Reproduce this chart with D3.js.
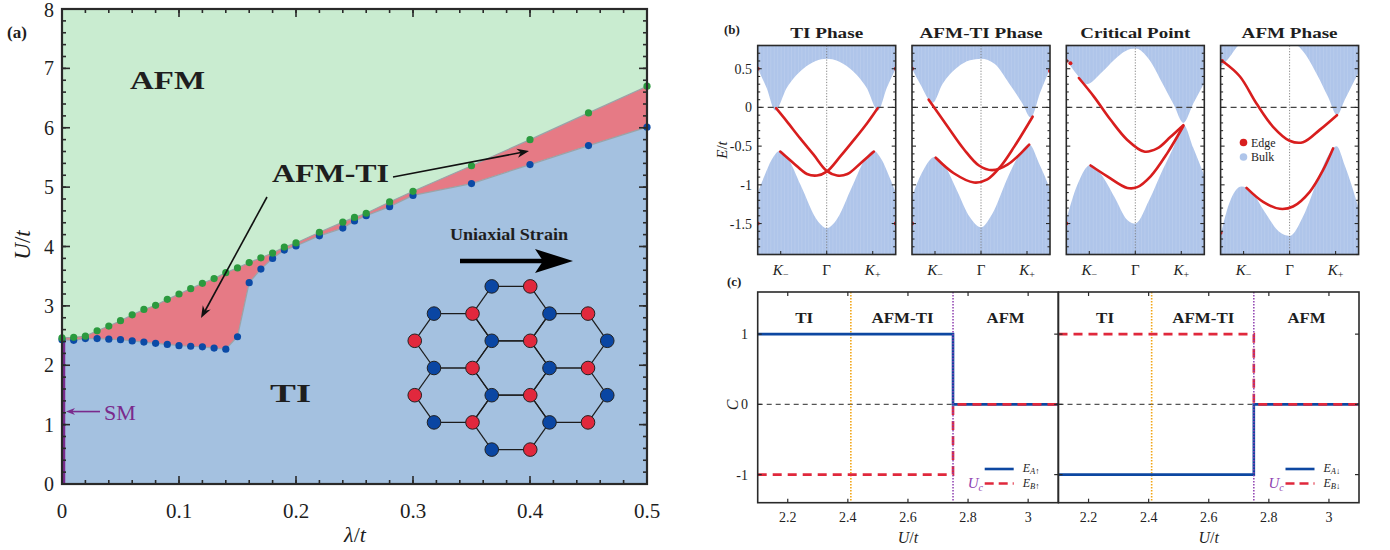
<!DOCTYPE html>
<html>
<head>
<meta charset="utf-8">
<script src="https://cdn.jsdelivr.net/npm/d3@7"></script>
<style>
body{margin:0;background:#fff}
svg{display:block}
text{font-family:"Liberation Serif","DejaVu Serif",serif;fill:#1e1e1e}
</style>
</head>
<body>
<svg id="fig" width="1390" height="550"></svg>
<script>
// ---------- (a) phase diagram data ----------
var lambdaVals = [0,0.01,0.02,0.03,0.04,0.05,0.06,0.07,0.08,0.09,0.10,0.11,0.12,0.13,0.14,0.15,0.16,0.17,0.18,0.19,0.20,0.22,0.24,0.25,0.26,0.28,0.30,0.35,0.40,0.45,0.50];
var uAfm = [2.46,2.47,2.49,2.58,2.66,2.75,2.85,2.94,3.01,3.11,3.20,3.29,3.38,3.46,3.56,3.64,3.73,3.81,3.89,3.99,4.06,4.24,4.41,4.49,4.56,4.75,4.93,5.36,5.80,6.25,6.70];
var uTi  = [2.43,2.42,2.45,2.45,2.44,2.43,2.41,2.39,2.37,2.35,2.33,2.32,2.31,2.29,2.27,2.48,3.39,3.62,3.80,3.94,4.01,4.18,4.31,4.43,4.52,4.67,4.86,5.06,5.38,5.70,6.01];
var smTop = 2.43;
var xTicksA = [0,0.1,0.2,0.3,0.4,0.5];
var yTicksA = [0,1,2,3,4,5,6,7,8];
// honeycomb cells (column, row in half-hexagon units)
var hexCells = [[0,-2],[0,0],[0,2],[-1,-1],[-1,1],[1,-1],[1,1]];

// ---------- (b) edge spectra data: [k (0..1 across zone), E/t] ----------
var tiCond = [[0,0.5],[0.065,0.25],[0.128,-0.04],[0.21,0.25],[0.33,0.5],[0.42,0.6],[0.5,0.63],[0.58,0.6],[0.67,0.5],[0.79,0.25],[0.872,-0.04],[0.935,0.25],[1,0.5]];
var tiVal  = [[0,-1.1],[0.05,-0.88],[0.1,-0.68],[0.163,-0.56],[0.22,-0.66],[0.31,-1.0],[0.44,-1.48],[0.5,-1.56],[0.56,-1.48],[0.69,-1.0],[0.78,-0.66],[0.837,-0.56],[0.9,-0.68],[0.95,-0.88],[1,-1.1]];
var tiEdgeA = [[0.133,-0.01],[0.211,-0.18],[0.308,-0.40],[0.405,-0.61],[0.5,-0.82],[0.575,-0.88],[0.65,-0.86],[0.746,-0.72],[0.842,-0.57]];
var tiEdgeB = [[0.163,-0.57],[0.26,-0.72],[0.357,-0.86],[0.43,-0.88],[0.5,-0.83],[0.6,-0.63],[0.697,-0.42],[0.794,-0.20],[0.869,-0.01]];
var tiDots = [[0,0.5],[1,0.5],[0,-1.5],[1,-1.5]];

var atCond = [[0,0.5],[0.06,0.3],[0.15,0.06],[0.22,0.3],[0.33,0.52],[0.42,0.61],[0.5,0.63],[0.6,0.56],[0.7,0.32],[0.8,0.05],[0.86,-0.13],[0.93,0.2],[1,0.5]];
var atVal  = [[0,-1.15],[0.07,-0.85],[0.165,-0.64],[0.24,-0.76],[0.32,-1.05],[0.42,-1.42],[0.5,-1.55],[0.58,-1.38],[0.7,-0.88],[0.78,-0.6],[0.85,-0.48],[0.92,-0.72],[1,-1.05]];
var atEdgeA = [[0.121,0.10],[0.255,-0.24],[0.376,-0.54],[0.485,-0.75],[0.582,-0.81],[0.692,-0.74],[0.849,-0.48]];
var atEdgeB = [[0.172,-0.65],[0.303,-0.85],[0.449,-0.97],[0.546,-0.93],[0.643,-0.76],[0.74,-0.51],[0.874,-0.12]];
var atDots = [[0,0.5],[0,-1.5],[1,0.47]];

var crCond = [[0,0.62],[0.08,0.42],[0.15,0.3],[0.25,0.44],[0.35,0.62],[0.43,0.73],[0.5,0.76],[0.6,0.62],[0.7,0.3],[0.78,0.03],[0.848,-0.2],[0.92,0.05],[1,0.32]];
var crVal  = [[0,-1.45],[0.08,-1.0],[0.176,-0.74],[0.25,-0.86],[0.35,-1.16],[0.44,-1.45],[0.5,-1.5],[0.6,-1.2],[0.7,-0.8],[0.78,-0.5],[0.848,-0.22],[0.92,-0.52],[1,-0.88]];
var crEdgeA = [[0.091,0.38],[0.2,0.14],[0.321,-0.16],[0.442,-0.42],[0.563,-0.57],[0.659,-0.53],[0.756,-0.38],[0.848,-0.23]];
var crEdgeB = [[0.176,-0.75],[0.297,-0.89],[0.442,-1.04],[0.514,-1.03],[0.611,-0.89],[0.732,-0.59],[0.848,-0.24]];
var crDots = [[0,0.6],[0.03,0.57],[0,-1.5]];

var afCond = [[0,0.52],[0.06,0.64],[0.15,0.82],[0.5,0.85],[0.6,0.72],[0.7,0.42],[0.78,0.13],[0.843,-0.1],[0.9,0.1],[1,0.45]];
var afVal  = [[0,-1.65],[0.06,-1.25],[0.152,-1.02],[0.22,-1.08],[0.32,-1.35],[0.42,-1.6],[0.5,-1.66],[0.6,-1.4],[0.7,-0.95],[0.78,-0.62],[0.84,-0.5],[0.9,-0.75],[1,-1.3]];
var afEdgeA = [[0.02,0.59],[0.14,0.40],[0.26,0.05],[0.38,-0.25],[0.5,-0.43],[0.597,-0.45],[0.718,-0.29],[0.843,-0.10]];
var afEdgeB = [[0.188,-1.04],[0.308,-1.22],[0.429,-1.31],[0.525,-1.28],[0.646,-1.09],[0.742,-0.81],[0.815,-0.53]];
var afDots = [[0.01,0.6],[0,-1.62]];

var bTitles = ["TI Phase","AFM-TI Phase","Critical Point","AFM Phase"];
var bTitleW = [73,123,110,96];
var eTicks = [0.5,0,-0.5,-1,-1.5];
var kTicks = [1/6,0.5,5/6];

// ---------- (c) Chern numbers ----------
var uSteps = [2.1,2.75,2.75,3.1];
var cAup = [1,1,0,0];
var cBup = [-1,-1,0,0];
var cAdn = [-1,-1,0,0];
var cBdn = [1,1,0,0];
var uTiAfmTi = 2.41, uCrit = 2.75;
var uTicks = [2.2,2.4,2.6,2.8,3];
var cTicks = [1,0,-1];

var svg = d3.select("#fig");
var ink = "#2a2a2a";

function arrowHead(g, x1, y1, x2, y2, len, wid, col) {
    var a = Math.atan2(y2 - y1, x2 - x1);
    var p = [[x2, y2],
        [x2 - len*Math.cos(a) + wid*Math.sin(a), y2 - len*Math.sin(a) - wid*Math.cos(a)],
        [x2 - 0.7*len*Math.cos(a), y2 - 0.7*len*Math.sin(a)],
        [x2 - len*Math.cos(a) - wid*Math.sin(a), y2 - len*Math.sin(a) + wid*Math.cos(a)]];
    g.append("path").attr("d", "M" + p.join("L") + "Z").attr("fill", col);
}

// ================= panel (a) =================
var xA = d3.scaleLinear().domain([0,0.5]).range([62,647]);
var yA = d3.scaleLinear().domain([0,8]).range([484,9]);
var gA = svg.append("g");
var ptsA = lambdaVals.map(function(l,i){ return {l:l, g:uAfm[i], b:uTi[i]}; });

gA.append("rect").attr("x",xA(0)).attr("y",yA(8)).attr("width",xA(0.5)-xA(0)).attr("height",yA(0)-yA(8)).attr("fill","#c9ecd0");
gA.append("path").datum(ptsA)
    .attr("d", d3.area().x(function(d){return xA(d.l);}).y0(function(d){return yA(d.b);}).y1(function(d){return yA(d.g);}))
    .attr("fill","#e67a85");
gA.append("path").datum(ptsA)
    .attr("d", d3.area().x(function(d){return xA(d.l);}).y0(yA(0)).y1(function(d){return yA(d.b);}))
    .attr("fill","#a4c1e0");
gA.append("path").datum(ptsA).attr("d", d3.line().x(function(d){return xA(d.l);}).y(function(d){return yA(d.g);}))
    .attr("fill","none").attr("stroke","#9aa3a8").attr("stroke-width",1.2);
gA.append("path").datum(ptsA).attr("d", d3.line().x(function(d){return xA(d.l);}).y(function(d){return yA(d.b);}))
    .attr("fill","none").attr("stroke","#9aa3a8").attr("stroke-width",1.2);

// SM line
gA.append("line").attr("x1",xA(0)+1.5).attr("x2",xA(0)+1.5).attr("y1",yA(0)).attr("y2",yA(smTop))
    .attr("stroke","#7a2a8c").attr("stroke-width",3.5);

// dots
gA.selectAll(".bd").data(ptsA).enter().append("circle")
    .attr("cx",function(d){return xA(d.l);}).attr("cy",function(d){return yA(d.b);}).attr("r",3.6).attr("fill","#0b4aa6");
gA.selectAll(".gd").data(ptsA).enter().append("circle")
    .attr("cx",function(d){return xA(d.l);}).attr("cy",function(d){return yA(d.g);}).attr("r",3.6).attr("fill","#2b9a3e");

// honeycomb lattice
var hc = {x:511, y:368, a:38.5, h:27.2};
var corners = [[-0.5,-1,"A"],[0.5,-1,"B"],[1,0,"A"],[0.5,1,"B"],[-0.5,1,"A"],[-1,0,"B"]];
var sites = {}, bonds = [];
hexCells.forEach(function(c){
    var cx = hc.x + c[0]*1.5*hc.a, cy = hc.y + c[1]*hc.h;
    var vs = corners.map(function(k){ return [cx + k[0]*hc.a, cy + k[1]*hc.h, k[2]]; });
    vs.forEach(function(v,i){
        var w = vs[(i+1)%6];
        bonds.push([v[0],v[1],w[0],w[1]]);
        sites[Math.round(v[0]) + "_" + Math.round(v[1])] = v;
    });
});
gA.selectAll(".bond").data(bonds).enter().append("line")
    .attr("x1",function(d){return d[0];}).attr("y1",function(d){return d[1];})
    .attr("x2",function(d){return d[2];}).attr("y2",function(d){return d[3];})
    .attr("stroke","#1c1c1c").attr("stroke-width",1.2);
gA.selectAll(".site").data(Object.values(sites)).enter().append("circle")
    .attr("cx",function(d){return d[0];}).attr("cy",function(d){return d[1];}).attr("r",6.8)
    .attr("fill",function(d){return d[2]==="A" ? "#0a46a3" : "#e1283d";})
    .attr("stroke","#222").attr("stroke-width",1);

// labels
function boldLabel(g, txt, x, y, size, w) {
    g.append("text").attr("x",x).attr("y",y).attr("font-size",size).attr("font-weight","bold")
        .attr("textLength",w).attr("lengthAdjust","spacingAndGlyphs").text(txt);
}
boldLabel(gA,"AFM",130,89,25,75);
boldLabel(gA,"AFM-TI",272,182,25,117);
boldLabel(gA,"TI",270,402,25,41);
boldLabel(gA,"Uniaxial Strain",450,240,17,118);

// AFM-TI arrows
gA.append("line").attr("x1",267).attr("y1",197).attr("x2",205).attr("y2",311).attr("stroke","#111").attr("stroke-width",1.6);
arrowHead(gA,267,197,201,318,12,4.5,"#111");
gA.append("line").attr("x1",393).attr("y1",177).attr("x2",521).attr("y2",152.5).attr("stroke","#111").attr("stroke-width",1.6);
arrowHead(gA,393,177,529,151,12,4.5,"#111");
// strain arrow
gA.append("line").attr("x1",460).attr("y1",261).attr("x2",545).attr("y2",261).attr("stroke","#000").attr("stroke-width",4.5);
gA.append("path").attr("d","M573,261L535,249L543,261L535,273Z").attr("fill","#000");

// SM arrow + label
gA.append("line").attr("x1",100).attr("y1",yA(1.22)).attr("x2",72).attr("y2",yA(1.22)).attr("stroke","#7a2a8c").attr("stroke-width",1.6);
arrowHead(gA,100,yA(1.22),66,yA(1.22),9,3.5,"#7a2a8c");
gA.append("text").attr("x",104).attr("y",yA(1.22)+8).attr("font-size",22).style("fill","#7a2a8c").text("SM");

// axes (a)
gA.append("rect").attr("x",xA(0)).attr("y",yA(8)).attr("width",xA(0.5)-xA(0)).attr("height",yA(0)-yA(8))
    .attr("fill","none").attr("stroke",ink).attr("stroke-width",2.2);
var xMinorA = d3.range(0,0.5001,0.02), yMinorA = d3.range(0,8.001,0.2);
[[xMinorA,4],[xTicksA,8]].forEach(function(t){
    t[0].forEach(function(v){
        gA.append("line").attr("x1",xA(v)).attr("x2",xA(v)).attr("y1",yA(0)).attr("y2",yA(0)-t[1]).attr("stroke",ink).attr("stroke-width",1.6);
        gA.append("line").attr("x1",xA(v)).attr("x2",xA(v)).attr("y1",yA(8)).attr("y2",yA(8)+t[1]).attr("stroke",ink).attr("stroke-width",1.6);
    });
});
[[yMinorA,4],[yTicksA,8]].forEach(function(t){
    t[0].forEach(function(v){
        gA.append("line").attr("y1",yA(v)).attr("y2",yA(v)).attr("x1",xA(0)).attr("x2",xA(0)+t[1]).attr("stroke",ink).attr("stroke-width",1.6);
        gA.append("line").attr("y1",yA(v)).attr("y2",yA(v)).attr("x1",xA(0.5)).attr("x2",xA(0.5)-t[1]).attr("stroke",ink).attr("stroke-width",1.6);
    });
});
gA.selectAll(".xtl").data(xTicksA).enter().append("text").attr("x",function(d){return xA(d);}).attr("y",518)
    .attr("text-anchor","middle").attr("font-size",21).text(function(d){return d===0?"0":d3.format(".1f")(d);});
gA.selectAll(".ytl").data(yTicksA).enter().append("text").attr("x",54).attr("y",function(d){return Math.max(yA(d)+7,16.5);})
    .attr("text-anchor","end").attr("font-size",20).text(function(d){return d;});
gA.append("text").attr("transform","translate(30,245) rotate(-90)").attr("text-anchor","middle").attr("font-size",23)
    .html('<tspan font-style="italic">U</tspan>/<tspan font-style="italic">t</tspan>');
gA.append("text").attr("x",355).attr("y",542).attr("text-anchor","middle").attr("font-size",22)
    .html('<tspan font-style="italic">λ</tspan>/<tspan font-style="italic">t</tspan>');
gA.append("text").attr("x",7).attr("y",38).attr("font-size",17).attr("font-weight","bold").text("(a)");

// ================= panel (b) =================
var bPanels = [
    {cond:tiCond, val:tiVal, edges:[tiEdgeA,tiEdgeB], dots:tiDots},
    {cond:atCond, val:atVal, edges:[atEdgeA,atEdgeB], dots:atDots},
    {cond:crCond, val:crVal, edges:[crEdgeA,crEdgeB], dots:crDots},
    {cond:afCond, val:afVal, edges:[afEdgeA,afEdgeB], dots:afDots}
];
var yB = d3.scaleLinear().domain([-1.9,0.8]).range([254.5,45.5]);
var bulkCol = "#afc5ea", edgeCol = "#d81e1e";
var eMinor = d3.range(-1.9,0.801,0.1);

bPanels.forEach(function(p,i){
    var x0 = 757.7 + i*154.3, w = 138;
    var xB = d3.scaleLinear().domain([0,1]).range([x0,x0+w]);
    var g = svg.append("g");
    var cid = "clipb" + i;
    svg.append("clipPath").attr("id",cid).append("rect").attr("x",x0).attr("y",yB(0.8)).attr("width",w).attr("height",yB(-1.9)-yB(0.8));
    var gc = g.append("g").attr("clip-path","url(#"+cid+")");
    gc.append("path").datum(p.cond)
        .attr("d", d3.area().curve(d3.curveMonotoneX).x(function(d){return xB(d[0]);}).y0(function(d){return yB(d[1]);}).y1(yB(0.8)-2))
        .attr("fill",bulkCol);
    gc.append("path").datum(p.val)
        .attr("d", d3.area().curve(d3.curveMonotoneX).x(function(d){return xB(d[0]);}).y0(function(d){return yB(d[1]);}).y1(yB(-1.9)+2))
        .attr("fill",bulkCol);
    // faint striation to hint at the many bulk subbands
    d3.range(0.02,1,0.025).forEach(function(k){
        gc.append("line").attr("x1",xB(k)).attr("x2",xB(k)).attr("y1",yB(0.8)).attr("y2",yB(-1.9))
            .attr("stroke","#ffffff").attr("stroke-opacity",0.15).attr("stroke-width",0.8);
    });
    gc.append("line").attr("x1",xB(0.5)).attr("x2",xB(0.5)).attr("y1",yB(0.8)).attr("y2",yB(-1.9))
        .attr("stroke","#777").attr("stroke-width",0.9).attr("stroke-dasharray","1.2,1.6");
    gc.append("line").attr("x1",x0).attr("x2",x0+w).attr("y1",yB(0)).attr("y2",yB(0))
        .attr("stroke","#444").attr("stroke-width",1.3).attr("stroke-dasharray","6,4");
    p.edges.forEach(function(e){
        gc.append("path").datum(e)
            .attr("d", d3.line().curve(d3.curveCatmullRom.alpha(0.5)).x(function(d){return xB(d[0]);}).y(function(d){return yB(d[1]);}))
            .attr("fill","none").attr("stroke",edgeCol).attr("stroke-width",2.6).attr("stroke-linecap","round");
    });
    gc.selectAll(".ed").data(p.dots).enter().append("circle")
        .attr("cx",function(d){return xB(d[0]);}).attr("cy",function(d){return yB(d[1]);}).attr("r",2).attr("fill",edgeCol);
    // frame and ticks
    g.append("rect").attr("x",x0).attr("y",yB(0.8)).attr("width",w).attr("height",yB(-1.9)-yB(0.8))
        .attr("fill","none").attr("stroke",ink).attr("stroke-width",1.6);
    eMinor.forEach(function(v){
        var maj = Math.abs(v*2 - Math.round(v*2)) < 1e-6;
        var L = maj ? 4 : 2.5;
        g.append("line").attr("x1",x0).attr("x2",x0+L).attr("y1",yB(v)).attr("y2",yB(v)).attr("stroke",ink).attr("stroke-width",1.1);
        g.append("line").attr("x1",x0+w).attr("x2",x0+w-L).attr("y1",yB(v)).attr("y2",yB(v)).attr("stroke",ink).attr("stroke-width",1.1);
    });
    kTicks.forEach(function(k){
        g.append("line").attr("x1",xB(k)).attr("x2",xB(k)).attr("y1",yB(-1.9)).attr("y2",yB(-1.9)-3.5).attr("stroke",ink).attr("stroke-width",1.1);
    });
    var kl = g.append("g").attr("font-size",15);
    kl.append("text").attr("x",xB(1/6)).attr("y",275).attr("text-anchor","middle")
        .html('<tspan font-style="italic">K</tspan><tspan font-size="10" dy="3">−</tspan>');
    kl.append("text").attr("x",xB(0.5)).attr("y",275).attr("text-anchor","middle").text("Γ");
    kl.append("text").attr("x",xB(5/6)).attr("y",275).attr("text-anchor","middle")
        .html('<tspan font-style="italic">K</tspan><tspan font-size="10" dy="3">+</tspan>');
    g.append("text").attr("x",x0+w/2 - bTitleW[i]/2).attr("y",38).attr("font-size",15).attr("font-weight","bold")
        .attr("textLength",bTitleW[i]).attr("lengthAdjust","spacingAndGlyphs").text(bTitles[i]);
    if (i === 0) {
        g.selectAll(".etl").data(eTicks).enter().append("text").attr("x",752).attr("y",function(d){return yB(d)+5;})
            .attr("text-anchor","end").attr("font-size",14).text(function(d){return String(d);});
    }
    if (i === 3) {
        g.append("circle").attr("cx",1243.5).attr("cy",142.5).attr("r",3.8).attr("fill",edgeCol);
        g.append("circle").attr("cx",1243.5).attr("cy",157).attr("r",3.8).attr("fill",bulkCol);
        g.append("text").attr("x",1251).attr("y",146.5).attr("font-size",12).text("Edge");
        g.append("text").attr("x",1251).attr("y",161).attr("font-size",12).text("Bulk");
    }
});
svg.append("text").attr("transform","translate(727,150) rotate(-90)").attr("text-anchor","middle").attr("font-size",15)
    .html('<tspan font-style="italic">E</tspan>/<tspan font-style="italic">t</tspan>');
svg.append("text").attr("x",724).attr("y",34).attr("font-size",13).attr("font-weight","bold").text("(b)");

// ================= panel (c) =================
var yC = d3.scaleLinear().domain([-1.4,1.6]).range([502.7,292]);
var cPanels = [
    {x0:757.7, A:cAup, B:cBup, arrow:"↑"},
    {x0:1058.5, A:cAdn, B:cBdn, arrow:"↓"}
];
cPanels.forEach(function(p,i){
    var xC = d3.scaleLinear().domain([2.1,3.1]).range([p.x0,p.x0+300.5]);
    var g = svg.append("g");
    g.append("line").attr("x1",xC(2.1)).attr("x2",xC(3.1)).attr("y1",yC(0)).attr("y2",yC(0))
        .attr("stroke","#555").attr("stroke-width",1.3).attr("stroke-dasharray","5,4");
    g.append("line").attr("x1",xC(uTiAfmTi)).attr("x2",xC(uTiAfmTi)).attr("y1",yC(1.6)).attr("y2",yC(-1.4))
        .attr("stroke","#f2a516").attr("stroke-width",1.6).attr("stroke-dasharray","1.5,1.5");
    var stepLine = d3.line().x(function(d){return xC(d[0]);}).y(function(d){return yC(d[1]);});
    g.append("path").datum(uSteps.map(function(u,j){return [u,p.A[j]];})).attr("d",stepLine)
        .attr("fill","none").attr("stroke","#0d47a1").attr("stroke-width",2.6);
    g.append("path").datum(uSteps.map(function(u,j){return [u,p.B[j]];})).attr("d",stepLine)
        .attr("fill","none").attr("stroke","#e0283c").attr("stroke-width",2.6).attr("stroke-dasharray","9,6");
    g.append("line").attr("x1",xC(uCrit)).attr("x2",xC(uCrit)).attr("y1",yC(1.6)).attr("y2",yC(-1.4))
        .attr("stroke","#8e3fb0").attr("stroke-width",1.5).attr("stroke-dasharray","1.5,1.5");
    g.append("rect").attr("x",xC(2.1)).attr("y",yC(1.6)).attr("width",xC(3.1)-xC(2.1)).attr("height",yC(-1.4)-yC(1.6))
        .attr("fill","none").attr("stroke",ink).attr("stroke-width",1.6);
    uTicks.forEach(function(u){
        g.append("line").attr("x1",xC(u)).attr("x2",xC(u)).attr("y1",yC(-1.4)).attr("y2",yC(-1.4)-4).attr("stroke",ink).attr("stroke-width",1.2);
        g.append("line").attr("x1",xC(u)).attr("x2",xC(u)).attr("y1",yC(1.6)).attr("y2",yC(1.6)+4).attr("stroke",ink).attr("stroke-width",1.2);
    });
    cTicks.forEach(function(c){
        g.append("line").attr("x1",xC(2.1)).attr("x2",xC(2.1)+4).attr("y1",yC(c)).attr("y2",yC(c)).attr("stroke",ink).attr("stroke-width",1.2);
        g.append("line").attr("x1",xC(3.1)).attr("x2",xC(3.1)-4).attr("y1",yC(c)).attr("y2",yC(c)).attr("stroke",ink).attr("stroke-width",1.2);
    });
    g.selectAll(".utl").data(uTicks).enter().append("text").attr("x",function(d){return xC(d);}).attr("y",522)
        .attr("text-anchor","middle").attr("font-size",14).text(function(d){return d===3?"3":d3.format(".1f")(d);});
    if (i === 0) {
        g.selectAll(".ctl").data(cTicks).enter().append("text").attr("x",748).attr("y",function(d){return yC(d)+5;})
            .attr("text-anchor","end").attr("font-size",14).text(function(d){return String(d);});
    }
    g.append("text").attr("x",xC(2.6)).attr("y",543).attr("text-anchor","middle").attr("font-size",16)
        .html('<tspan font-style="italic">U</tspan>/<tspan font-style="italic">t</tspan>');
    boldLabel(g,"TI",xC(2.255)-9,323,14,18);
    boldLabel(g,"AFM-TI",xC(2.582)-31,323,14,62);
    boldLabel(g,"AFM",xC(2.925)-19,323,14,38);
    // legend
    var lx = p.x0 + 227;
    g.append("line").attr("x1",lx).attr("x2",lx+29).attr("y1",469).attr("y2",469).attr("stroke","#0d47a1").attr("stroke-width",2.6);
    g.append("line").attr("x1",lx).attr("x2",lx+29).attr("y1",483.5).attr("y2",483.5).attr("stroke","#e0283c").attr("stroke-width",2.6).attr("stroke-dasharray","9,5");
    g.append("text").attr("x",lx+38).attr("y",472).attr("font-size",12)
        .html('<tspan font-style="italic">E</tspan><tspan font-size="8.5" dy="2"><tspan font-style="italic">A</tspan>' + p.arrow + '</tspan>');
    g.append("text").attr("x",lx+38).attr("y",486.5).attr("font-size",12)
        .html('<tspan font-style="italic">E</tspan><tspan font-size="8.5" dy="2"><tspan font-style="italic">B</tspan>' + p.arrow + '</tspan>');
    g.append("text").attr("x",lx-17).attr("y",488).attr("font-size",15).style("fill","#8e3fb0")
        .html('<tspan font-style="italic">U</tspan><tspan font-size="10" dy="3" font-style="italic">c</tspan>');
});
svg.append("text").attr("transform","translate(738,405) rotate(-90)").attr("text-anchor","middle").attr("font-size",16)
    .attr("font-style","italic").text("C");
svg.append("text").attr("x",727).attr("y",286).attr("font-size",13).attr("font-weight","bold").text("(c)");
</script>
</body>
</html>
